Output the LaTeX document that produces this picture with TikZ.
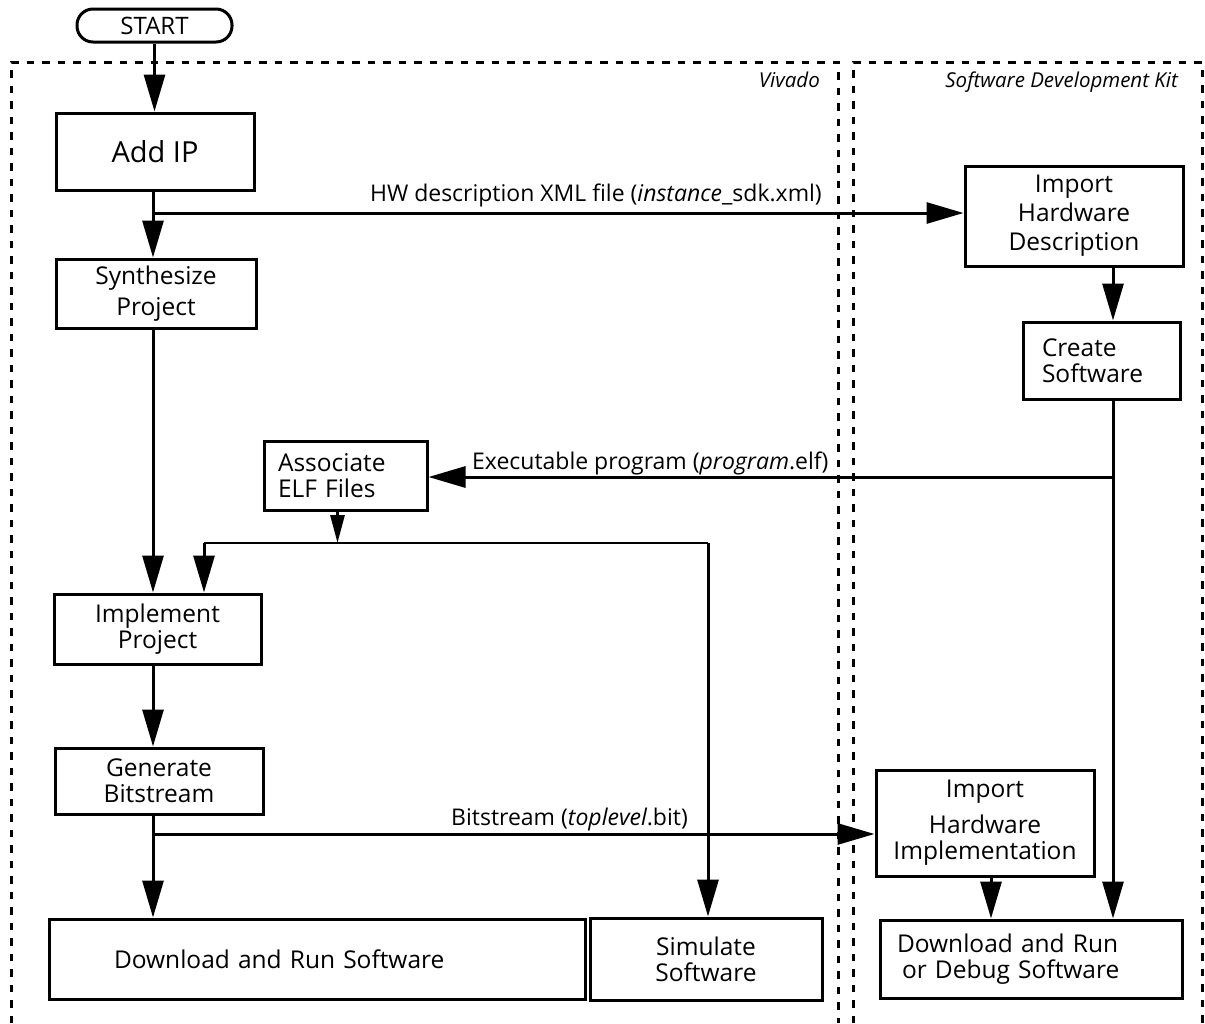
\documentclass[tikz,border=0pt]{standalone}
\usepackage{fontspec}
\setmainfont{Open Sans}
\usetikzlibrary{arrows.meta}
\begin{document}
\begin{tikzpicture}[x=1pt,y=-1pt,
  box/.style={draw, line width=3pt, inner sep=0pt, align=center, font=\fontsize{24.5}{26}\selectfont},
  conn/.style={line width=3pt},
  arr/.style={conn, -{Triangle[length=37pt,width=21pt]}},
  arrs/.style={conn, -{Triangle[length=28pt,width=14pt]}},
  region/.style={line width=3pt, dash pattern=on 7.5pt off 8pt},
  lbl/.style={font=\fontsize{23}{25}\selectfont, inner sep=0pt},
  reg/.style={font=\itshape\fontsize{20.5}{22}\selectfont, inner sep=0pt}]

\useasboundingbox (0,0) rectangle (1205,1023);

% regions
\draw[region] (11,1023) -- (11,62) -- (838,62) -- (838,1023);
\draw[region] (853,1023) -- (853,62) -- (1202,62) -- (1202,1023);
\node[reg, anchor=base east] (viv) at (820,87) {Vivado};
\node[reg, anchor=base east] (sdk) at (1178,87) {Software Development Kit};

% nodes
\node[box, rounded corners=16pt, minimum width=155pt, minimum height=33pt, font=\fontsize{24}{26}\selectfont] (start) at (154.5,25.5) {START};
\node[box, minimum width=198pt, minimum height=77pt, font=\fontsize{29}{32}\selectfont] (addip) at (155,151.5) {Add IP};
\node[box, minimum width=200pt, minimum height=69pt, font=\fontsize{24.5}{31}\selectfont] (synth) at (156,293.5) {Synthesize\\Project};
\node[box, minimum width=218pt, minimum height=100pt, font=\fontsize{24.5}{29}\selectfont] (importhw) at (1074,216) {Import\\Hardware\\Description};
\node[box, minimum height=77pt, text width=119pt, inner xsep=19pt, align=left] (create) at (1101.5,360.5) {Create\\Software};
\node[box, minimum height=69pt, text width=135pt, inner xsep=14pt, align=left] (assoc) at (345.5,475.5) {Associate\\ELF Files};
\node[box, minimum width=207pt, minimum height=70pt] (implement) at (157.5,629) {Implement\\Project};
\node[box, minimum width=208pt, minimum height=66pt] (generate) at (159,781) {Generate\\Bitstream};
\node[box, minimum height=80pt, text width=406pt, inner xsep=65pt, align=left] (download) at (317,959) {Download and Run Software};
\node[box, minimum width=232pt, minimum height=82pt] (simulate) at (706,959) {Simulate\\Software};
\node[box, minimum width=218pt, minimum height=106pt] (importimpl) at (985,823) {Import\\[10pt]Hardware\\Implementation};
\node[box, minimum height=78pt, text width=268pt, inner xsep=17pt, align=left] (debug) at (1031,959) {Download and Run\\\hspace*{5pt}or Debug Software};

% labels
\node[lbl, anchor=base east] (hwlbl) at (822,201) {HW description XML file (\textit{instance}\_sdk.xml)};
\node[lbl, anchor=base west] (exlbl) at (472,469) {Executable program (\textit{program}.elf)};
\node[lbl, anchor=base east] (bslbl) at (688,825) {Bitstream (\textit{toplevel}.bit)};

% helper coordinates
\coordinate (xa) at (153,0);
\coordinate (xs) at (1113,0);
\coordinate (hw) at (153,213);
\coordinate (ex) at (1113,477);
\coordinate (bs) at (153,834);
\coordinate (hl) at (204,543);
\coordinate (hr) at (708,543);

% connectors
\draw[arr] (start.south) -- (start.south |- addip.north);
\draw[arr] (addip.south -| xa) -- (synth.north -| xa);
\draw[arr] (hw) -- (hw -| importhw.west);
\draw[arr] (importhw.south -| xs) -- (create.north -| xs);
\draw[arr] (create.south -| xs) -- (debug.north -| xs);
\draw[arr] (ex) -- (ex -| assoc.east);
\draw[arrs] ([xshift=-8pt]assoc.south) -- ([xshift=-8pt]assoc.south |- hl);
\draw[line width=2pt] (hl) -- (hr);
\draw[arr] (hl) -- (hl |- implement.north);
\draw[arr] (hr) -- (hr |- simulate.north);
\draw[arr] (synth.south -| xa) -- (implement.north -| xa);
\draw[arr] (implement.south -| xa) -- (generate.north -| xa);
\draw[arr] (generate.south -| xa) -- (download.north -| xa);
\draw[arr] (bs) -- (bs -| importimpl.west);
\draw[arr] ([xshift=6pt]importimpl.south) -- ([xshift=6pt]importimpl.south |- debug.north);
\end{tikzpicture}
\end{document}
